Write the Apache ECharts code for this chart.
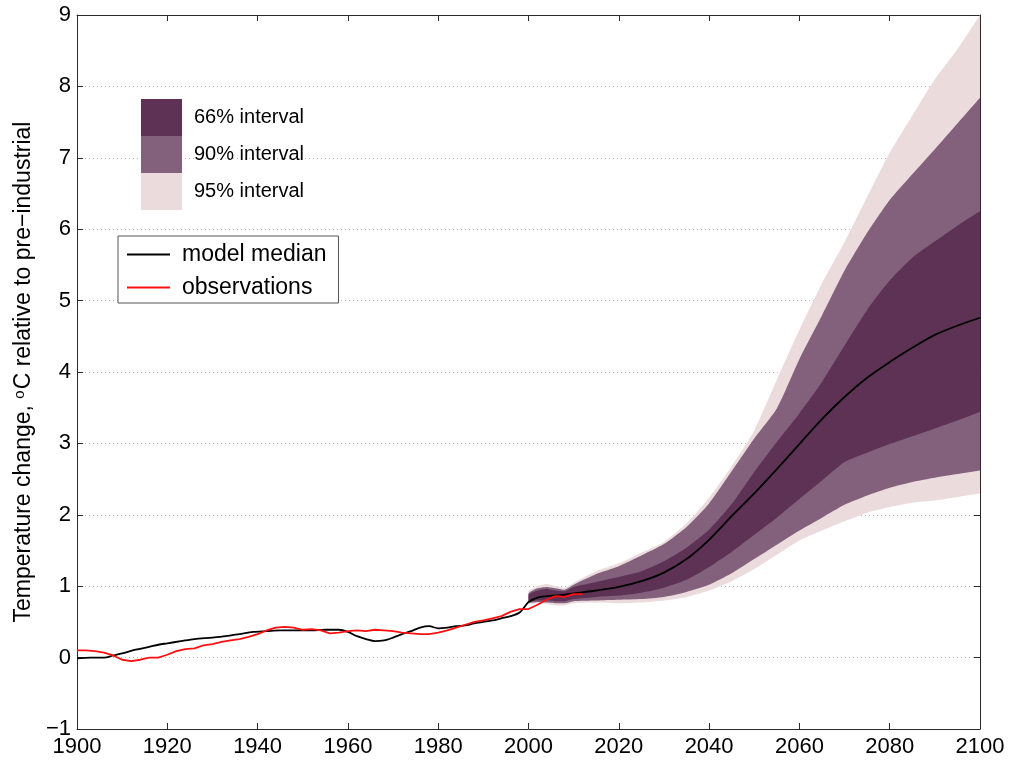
<!DOCTYPE html>
<html>
<head>
<meta charset="utf-8">
<title>Temperature change relative to pre-industrial</title>
<script src="https://cdn.jsdelivr.net/npm/echarts@6/dist/echarts.min.js"></script>
<style>
  html, body { margin: 0; padding: 0; background: #ffffff; }
  #chart { width: 1010px; height: 760px; }
</style>
</head>
<body>
<div id="chart"></div>
<script>
// Model median, 1900-2100 (°C relative to pre-industrial)
const medianYears = [1900,1903,1906,1908,1910,1913,1916,1918,1920,1923,1926,1930,1933,1936,1939,1942,1945,1948,1952,1955,1958,1960,1962,1964,1966,1968,1970,1972,1974,1976,1978,1980,1982,1984,1986,1988,1990,1992,1994,1996,1998,1999,2000,2002,2004,2006,2008,2010,2015,2020,2025,2030,2035,2040,2045,2050,2055,2060,2065,2070,2075,2080,2085,2090,2095,2100];
const medianValues = [-0.01,0.00,0.00,0.03,0.06,0.11,0.15,0.18,0.20,0.23,0.26,0.28,0.30,0.33,0.36,0.37,0.38,0.38,0.38,0.39,0.39,0.36,0.30,0.26,0.23,0.24,0.28,0.33,0.37,0.42,0.44,0.41,0.42,0.44,0.45,0.48,0.50,0.52,0.55,0.58,0.63,0.70,0.78,0.84,0.86,0.87,0.88,0.90,0.94,0.99,1.07,1.19,1.38,1.65,1.98,2.30,2.64,2.99,3.34,3.65,3.92,4.14,4.34,4.52,4.65,4.76];

// Observed record
const obsYears = [1900,1902,1904,1906,1908,1910,1912,1914,1916,1918,1920,1922,1924,1926,1928,1930,1932,1934,1936,1938,1940,1942,1944,1946,1948,1950,1952,1954,1956,1958,1960,1962,1964,1966,1968,1970,1972,1974,1976,1978,1980,1982,1984,1986,1988,1990,1992,1994,1996,1998,2000,2002,2004,2006,2008,2010,2012];
const obsValues = [0.10,0.10,0.09,0.07,0.03,-0.03,-0.05,-0.03,0.00,0.00,0.04,0.09,0.12,0.13,0.17,0.19,0.22,0.24,0.26,0.29,0.33,0.38,0.42,0.43,0.42,0.39,0.40,0.38,0.34,0.35,0.37,0.38,0.37,0.39,0.38,0.37,0.35,0.34,0.33,0.33,0.35,0.38,0.42,0.46,0.50,0.52,0.55,0.58,0.64,0.68,0.68,0.74,0.81,0.86,0.85,0.89,0.89];

// Projection uncertainty ranges
const projYears = [2000,2002,2004,2006,2008,2010,2015,2020,2025,2030,2035,2040,2045,2050,2055,2060,2065,2070,2075,2080,2085,2090,2095,2100];
const hi95 = [0.93,1.00,1.03,1.00,0.98,1.05,1.21,1.32,1.47,1.62,1.88,2.24,2.68,3.18,3.89,4.59,5.24,5.82,6.45,7.07,7.59,8.10,8.52,9.00];
const hi90 = [0.90,0.97,0.99,0.97,0.95,1.02,1.17,1.28,1.43,1.59,1.83,2.16,2.61,3.07,3.49,4.18,4.79,5.42,5.95,6.41,6.77,7.12,7.48,7.84];
const hi66 = [0.88,0.94,0.96,0.94,0.93,0.99,1.06,1.13,1.21,1.35,1.54,1.79,2.15,2.60,3.02,3.42,3.86,4.37,4.87,5.28,5.60,5.83,6.05,6.25];
const lo66 = [0.78,0.80,0.80,0.79,0.79,0.82,0.85,0.87,0.91,0.98,1.09,1.27,1.48,1.72,1.96,2.22,2.48,2.74,2.87,2.99,3.10,3.21,3.32,3.44];
const lo90 = [0.77,0.78,0.77,0.76,0.76,0.79,0.80,0.81,0.82,0.85,0.92,1.02,1.18,1.38,1.58,1.78,1.96,2.14,2.27,2.38,2.46,2.52,2.57,2.62];
const lo95 = [0.75,0.76,0.75,0.73,0.73,0.76,0.77,0.76,0.77,0.80,0.85,0.94,1.07,1.24,1.44,1.64,1.78,1.91,2.03,2.11,2.17,2.20,2.25,2.30];

// Axis ticks
const xTicks = { min: 1900, max: 2100, step: 20 };
const yTicks = { min: -1, max: 9, step: 1 };

const FONT = "'Liberation Sans', Arial, Helvetica, sans-serif";
const C66 = '#5d3255';
const C90 = '#83617c';
const C95 = '#ecdbdc';

function pairs(xs, ys) {
  return xs.map((x, i) => [x, ys[i]]);
}

// Plain tick text, with a true minus sign for negatives
function tickText(v) {
  return v < 0 ? '\u2212' + Math.abs(v) : String(v);
}

// A filled band between a lower and an upper edge, drawn as one polygon
function bandSeries(name, color, lo, hi) {
  return {
    name: name,
    type: 'custom',
    coordinateSystem: 'cartesian2d',
    xAxisIndex: 0,
    yAxisIndex: 0,
    itemStyle: { color: color },
    data: projYears.map((y, i) => [y, lo[i], hi[i]]),
    encode: { x: 0, y: [1, 2] },
    silent: true,
    renderItem: function (params, api) {
      if (params.dataIndex !== 0) return null;
      const n = projYears.length;
      const pts = [];
      for (let i = 0; i < n; i++) pts.push(api.coord([projYears[i], hi[i]]));
      // repeat the end-year corners so the right edge stays square
      pts.push(api.coord([projYears[n - 1], hi[n - 1]]));
      pts.push(api.coord([projYears[n - 1], lo[n - 1]]));
      for (let i = n - 1; i >= 0; i--) pts.push(api.coord([projYears[i], lo[i]]));
      // keep the smoothed outline inside the box spanned by its own points
      let x0 = Infinity, y0 = Infinity, x1 = -Infinity, y1 = -Infinity;
      pts.forEach(p => {
        x0 = Math.min(x0, p[0]); y0 = Math.min(y0, p[1]);
        x1 = Math.max(x1, p[0]); y1 = Math.max(y1, p[1]);
      });
      return {
        type: 'polygon',
        shape: { points: pts, smooth: 0.2, smoothConstraint: [[x0, y0], [x1, y1]] },
        style: { fill: color }
      };
    }
  };
}

const axisLineStyle = { color: '#2a2a2a', width: 1 };
const tickStyle = { show: true, inside: true, length: 6, lineStyle: { color: '#2a2a2a', width: 1 } };
const lineIcon = 'path://M0,0 L43,0 L43,2 L0,2 Z';

const chart = echarts.init(document.getElementById('chart'), null, { renderer: 'canvas' });

chart.setOption({
  animation: false,
  backgroundColor: '#ffffff',
  textStyle: { fontFamily: FONT, color: '#000' },
  grid: { left: 77, right: 30, top: 15, bottom: 31, containLabel: false },
  xAxis: [
    {
      type: 'value', position: 'bottom',
      min: xTicks.min, max: xTicks.max, interval: xTicks.step,
      axisLine: { show: true, onZero: false, lineStyle: axisLineStyle },
      axisTick: tickStyle,
      axisLabel: { fontSize: 22, color: '#000', margin: 7, fontFamily: FONT, formatter: tickText },
      splitLine: { show: false }
    },
    {
      type: 'value', position: 'top',
      min: xTicks.min, max: xTicks.max, interval: xTicks.step,
      axisLine: { show: true, onZero: false, lineStyle: axisLineStyle },
      axisTick: tickStyle,
      axisLabel: { show: false },
      splitLine: { show: false }
    }
  ],
  yAxis: [
    {
      type: 'value', position: 'left',
      min: yTicks.min, max: yTicks.max, interval: yTicks.step,
      axisLine: { show: true, onZero: false, lineStyle: axisLineStyle },
      axisTick: tickStyle,
      axisLabel: { fontSize: 22, color: '#000', margin: 6, fontFamily: FONT, formatter: tickText },
      splitLine: { show: true, lineStyle: { color: '#b8b8b8', width: 1, type: [1, 3] } },
      name: 'Temperature change, {sup|o}C relative to pre\u2212industrial',
      nameLocation: 'middle',
      nameGap: 40,
      nameTextStyle: {
        fontSize: 23, color: '#000', fontFamily: FONT,
        rich: { sup: { fontSize: 15, color: '#000', fontFamily: FONT, verticalAlign: 'top', padding: [0, 1, 0, 0] } }
      }
    },
    {
      type: 'value', position: 'right',
      min: yTicks.min, max: yTicks.max, interval: yTicks.step,
      axisLine: { show: true, onZero: false, lineStyle: axisLineStyle },
      axisTick: tickStyle,
      axisLabel: { show: false },
      splitLine: { show: false }
    }
  ],
  legend: [
    {
      data: ['66% interval', '90% interval', '95% interval'],
      orient: 'vertical',
      left: 141, top: 99,
      padding: 0,
      itemWidth: 41, itemHeight: 37, itemGap: 0,
      icon: 'rect',
      selectedMode: false,
      textStyle: { fontSize: 20, color: '#000', fontFamily: FONT, padding: [0, 0, 0, 7] }
    },
    {
      data: [
        { name: 'model median', icon: lineIcon },
        { name: 'observations', icon: lineIcon }
      ],
      orient: 'vertical',
      left: 118, top: 236,
      padding: [7, 12, 4, 9],
      itemWidth: 43, itemHeight: 2, itemGap: 10,
      selectedMode: false,
      borderColor: '#555', borderWidth: 1, backgroundColor: '#ffffff',
      textStyle: { fontSize: 23, color: '#000', fontFamily: FONT, padding: [0, 0, 0, 7] }
    }
  ],
  series: [
    bandSeries('95% interval', C95, lo95, hi95),
    bandSeries('90% interval', C90, lo90, hi90),
    bandSeries('66% interval', C66, lo66, hi66),
    {
      name: 'model median',
      type: 'line',
      xAxisIndex: 0, yAxisIndex: 0,
      data: pairs(medianYears, medianValues),
      symbol: 'none', showSymbol: false, smooth: 0.3,
      lineStyle: { color: '#000000', width: 1.8 },
      itemStyle: { color: '#000000' },
      z: 3
    },
    {
      name: 'observations',
      type: 'line',
      xAxisIndex: 0, yAxisIndex: 0,
      data: pairs(obsYears, obsValues),
      symbol: 'none', showSymbol: false,
      lineStyle: { color: '#ff1010', width: 1.8 },
      itemStyle: { color: '#ff1010' },
      z: 4
    }
  ]
});
</script>
</body>
</html>
